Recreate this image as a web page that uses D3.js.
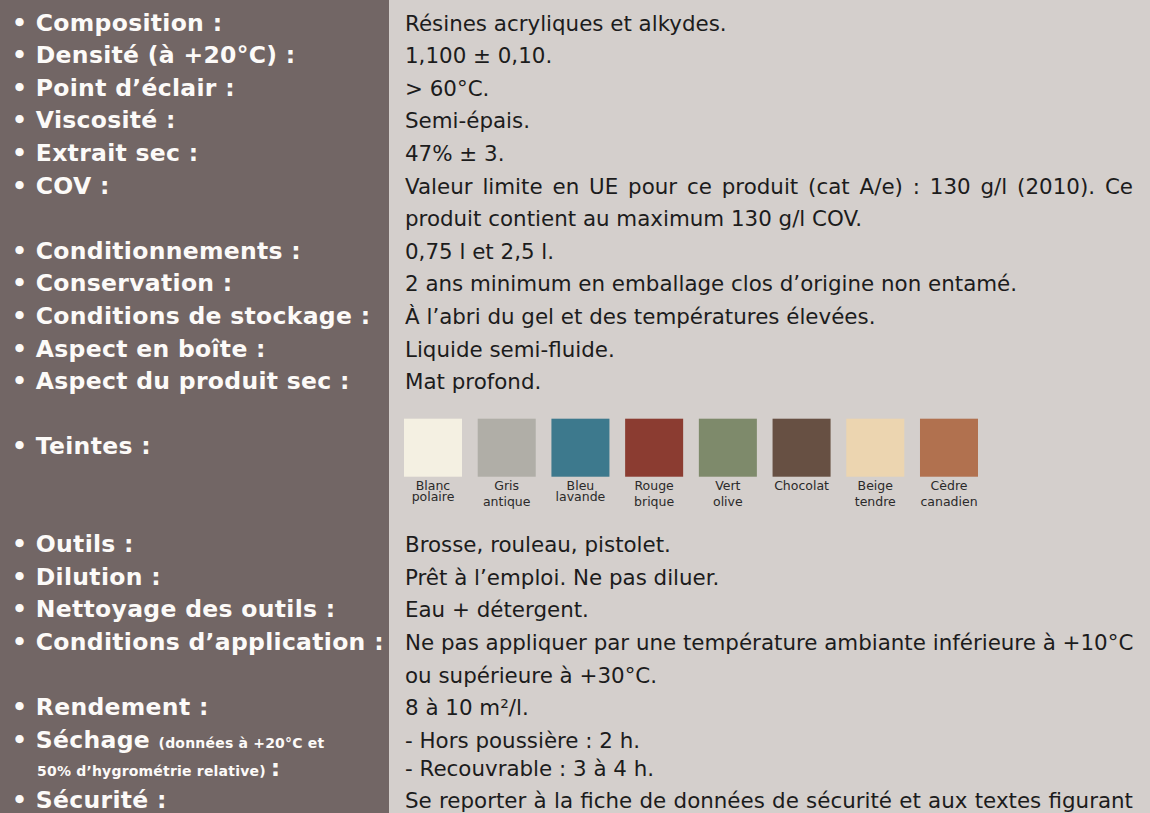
<!DOCTYPE html>
<html>
<head>
<meta charset="utf-8">
<script src="https://cdn.jsdelivr.net/npm/d3@7"></script>
<style>
  body { margin: 0; background: #d4cfcc; }
  svg { display: block; }
</style>
</head>
<body>
<script>
var width = 1150,
    height = 813;

// rows of the sheet: label on the left, value lines on the right
var labels = ["Composition :", "Densité (à +20°C) :", "Point d’éclair :", "Viscosité :", "Extrait sec :",
    "COV :", "Conditionnements :", "Conservation :", "Conditions de stockage :", "Aspect en boîte :",
    "Aspect du produit sec :", "Teintes :", "Outils :", "Dilution :", "Nettoyage des outils :",
    "Conditions d’application :", "Rendement :", "Séchage", "Sécurité :"];

var values = [
    ["Résines acryliques et alkydes."],
    ["1,100 ± 0,10."],
    ["> 60°C."],
    ["Semi-épais."],
    ["47% ± 3."],
    ["Valeur limite en UE pour ce produit (cat A/e) : 130 g/l (2010). Ce", "produit contient au maximum 130 g/l COV."],
    ["0,75 l et 2,5 l."],
    ["2 ans minimum en emballage clos d’origine non entamé."],
    ["À l’abri du gel et des températures élevées."],
    ["Liquide semi-fluide."],
    ["Mat profond."],
    [],
    ["Brosse, rouleau, pistolet."],
    ["Prêt à l’emploi. Ne pas diluer."],
    ["Eau + détergent."],
    ["Ne pas appliquer par une température ambiante inférieure à +10°C", "ou supérieure à +30°C."],
    ["8 à 10 m²/l."],
    ["- Hors poussière : 2 h.", "- Recouvrable : 3 à 4 h."],
    ["Se reporter à la fiche de données de sécurité et aux textes figurant"]
];

var sechageNote = ["(données à +20°C et", "50% d’hygrométrie relative)"];

// colour chips
var tintNames = [["Blanc", "polaire"], ["Gris", "antique"], ["Bleu", "lavande"], ["Rouge", "brique"],
    ["Vert", "olive"], ["Chocolat"], ["Beige", "tendre"], ["Cèdre", "canadien"]];
var tintColors = ["#f4f0e2", "#b0aea7", "#3d798d", "#8b3c31", "#7e8a6b", "#675043", "#ecd5b0", "#b1714f"];
var tintTight = [true, false, true, false, false, false, false, false];

var svg = d3.select("body").append("svg").attr("width", width).attr("height", height);

svg.append("rect").attr("width", width).attr("height", height).attr("fill", "#d4cfcc");
svg.append("rect").attr("width", 389).attr("height", height).attr("fill", "#726665");

// one slot = one text line
var y = d3.scaleLinear().domain([0, 1]).range([30.5, 63.1]);
var textLeft = 405, textRight = 1133;

// work out where every row starts
var slot = 0, rows = [];
labels.forEach(function (l, i) {
    var r = {label: l, lines: values[i], start: slot, pitch: 1, labelSlot: slot};
    if (l == "Teintes :") { r.labelSlot = slot + 1; r.tints = true; slot += 4; }
    else if (l == "Séchage") { r.pitch = 0.87; slot += 1.85; }
    else slot += Math.max(1, values[i].length);
    rows.push(r);
});

var g = svg.append("g");

function label(sel, size) {
    return sel.attr("fill", "#fcfaf8")
        .style("font-family", "'DejaVu Sans', Verdana, sans-serif")
        .style("font-weight", "bold")
        .style("letter-spacing", "0.3px")
        .style("font-size", size + "px");
}

rows.forEach(function (r) {
    var t = label(g.append("text").attr("x", 12).attr("y", y(r.labelSlot)), 23.5);
    if (r.label == "Séchage") {
        t.text("• Séchage ");
        t.append("tspan").style("font-size", "14px").style("letter-spacing", "0.2px").text(sechageNote[0]);
        var t2 = label(g.append("text").attr("x", 37).attr("y", y(r.start + r.pitch)), 14)
            .style("letter-spacing", "0.2px")
            .text(sechageNote[1] + " ");
        t2.append("tspan").style("font-size", "23.5px").text(":");
    } else {
        t.text("• " + r.label);
    }

    // long (wrapped) lines are justified to the right edge
    g.selectAll(null).data(r.lines).enter().append("text")
        .attr("x", textLeft)
        .attr("y", (d, j) => y(r.start + j * r.pitch))
        .attr("fill", "#1c1c1c")
        .style("font-family", "'DejaVu Sans', Verdana, sans-serif")
        .style("font-size", "21.4px")
        .text(d => d)
        .each(function (d) {
            var len = this.getComputedTextLength();
            var n = d.split(" ").length - 1;
            var extra = (textRight - textLeft) - len;
            if (len > 0.85 * (textRight - textLeft) && n > 0 && extra > 0)
                d3.select(this).style("word-spacing", (extra / n) + "px");
        });

    if (r.tints) {
        var x = d3.scaleBand().domain(d3.range(tintColors.length)).range([404, 978]).paddingInner(0.213);
        var top = y(r.start) - 3;
        var chips = g.selectAll("g.tint").data(tintColors).enter().append("g").attr("class", "tint");
        chips.append("rect")
            .attr("x", (d, i) => x(i))
            .attr("y", top)
            .attr("width", x.bandwidth())
            .attr("height", x.bandwidth())
            .attr("fill", d => d);
        chips.append("text")
            .attr("text-anchor", "middle")
            .attr("fill", "#2a2a2a")
            .style("font-family", "'DejaVu Sans', Verdana, sans-serif")
            .style("font-size", "12.5px")
            .each(function (d, i) {
                var el = d3.select(this);
                tintNames[i].forEach(function (w, k) {
                    el.append("tspan")
                        .attr("x", x(i) + x.bandwidth() / 2)
                        .attr("y", top + x.bandwidth() + 13 + k * (tintTight[i] ? 11.5 : 16))
                        .text(w);
                });
            });
    }
});
</script>
</body>
</html>
